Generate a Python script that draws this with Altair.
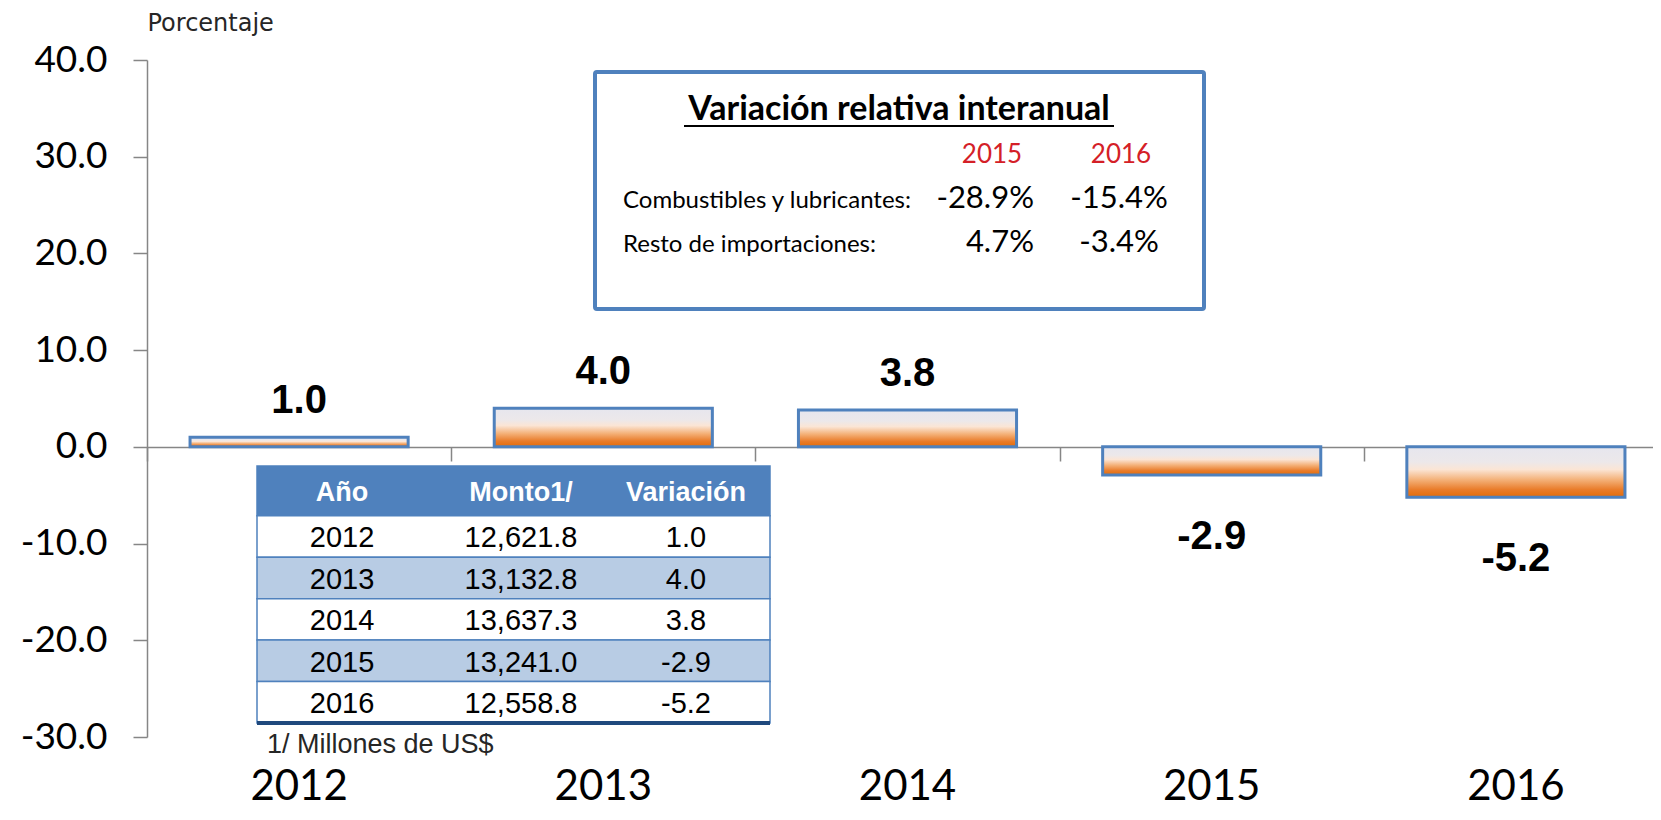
import altair as alt
import pandas as pd

# ---------------- data ----------------
years = ["2012", "2013", "2014", "2015", "2016"]
variacion = [1.0, 4.0, 3.8, -2.9, -5.2]
monto = [12621.8, 13132.8, 13637.3, 13241.0, 12558.8]
y_ticks = [-30, -20, -10, 0, 10, 20, 30, 40]
y_title = "Porcentaje"
table_headers = ["Año", "Monto1/", "Variación"]
footnote = "1/ Millones de US$"
box_title = "Variación relativa interanual"
box_years = ["2015", "2016"]
box_rows = ["Combustibles y lubricantes:", "Resto de importaciones:"]
box_v2015 = [-28.9, 4.7]
box_v2016 = [-15.4, -3.4]

# ---------------- style ----------------
W, H = 1506, 677
BLUE = "#4f81bd"
AXIS_GREY = "#868686"
RED = "#d42027"

# ---------------- main bars ----------------
bars_df = pd.DataFrame({"anio": years, "var": variacion})
bars_df["lbl"] = [f"{v:.1f}" for v in variacion]


def xscale():
    return alt.Scale(domain=years, range=[0, 1521], paddingInner=0.283, paddingOuter=0.1415)


def yscale():
    return alt.Scale(domain=[-30, 40], nice=False, zero=False)


grad = alt.Gradient(
    gradient="linear",
    stops=[
        alt.GradientStop(color="#e6e6ee", offset=0),
        alt.GradientStop(color="#ece8ea", offset=0.3),
        alt.GradientStop(color="#fbe5d5", offset=0.45),
        alt.GradientStop(color="#f4b27a", offset=0.65),
        alt.GradientStop(color="#e97c2a", offset=0.85),
        alt.GradientStop(color="#e36c09", offset=1),
    ],
    x1=0, x2=0, y1=0, y2=1,
)

bars = alt.Chart(bars_df).mark_bar(color=grad, stroke=BLUE, strokeWidth=3).encode(
    x=alt.X("anio:N", scale=xscale(), sort=None,
            axis=alt.Axis(title=None, orient="bottom", domain=False, ticks=False, tickSize=0,
                          labelFont="Lato", labelFontSize=42, labelColor="black",
                          labelBaseline="alphabetic", labelPadding=62, labelAngle=0, grid=False)),
    y=alt.Y("var:Q", scale=yscale(),
            axis=alt.Axis(orient="left", values=y_ticks,
                          labelExpr="(datum.value < 0 ? '-' : '') + format(abs(datum.value), '.1f')",
                          title=y_title, titleAngle=0,
                          titleAlign="left", titleBaseline="alphabetic", titleX=0, titleY=-30,
                          titleFont="DejaVu Sans", titleFontSize=24, titleFontWeight="normal",
                          titleColor="#262626", labelFont="Lato", labelFontSize=37,
                          labelColor="black", labelPadding=26, tickSize=14, tickColor=AXIS_GREY,
                          domainColor=AXIS_GREY, tickWidth=1.5, domainWidth=1.5, grid=False)),
)

pos_text = alt.Chart(bars_df).transform_filter("datum.var > 0").mark_text(
    font="Liberation Sans", fontSize=40, fontWeight="bold", baseline="alphabetic",
    dy=-24, align="center", color="black"
).encode(
    x=alt.X("anio:N", scale=xscale(), sort=None, axis=None),
    y=alt.Y("var:Q", scale=yscale(), axis=None),
    text="lbl:N",
)

neg_text = alt.Chart(bars_df).transform_filter("datum.var < 0").mark_text(
    font="Liberation Sans", fontSize=40, fontWeight="bold", baseline="alphabetic",
    dy=74, align="center", color="black"
).encode(
    x=alt.X("anio:N", scale=xscale(), sort=None, axis=None),
    y=alt.Y("var:Q", scale=yscale(), axis=None),
    text="lbl:N",
)

# zero line with category-boundary ticks (own band scale without padding)
zero_axis = alt.Axis(orient="bottom", offset=-290, labels=False, title=None, domain=True,
                     domainColor=AXIS_GREY, domainWidth=1.5, ticks=True, tickBand="extent",
                     tickSize=14, tickColor=AXIS_GREY, tickWidth=1.5, grid=False)
axis_group = alt.Chart(bars_df).mark_tick(opacity=0).encode(
    x=alt.X("anio:N", sort=None,
            scale=alt.Scale(domain=years, range=[0, 1521], paddingInner=0, paddingOuter=0),
            axis=zero_axis),
)

# ---------------- table ----------------
row_h = [1.2, 1, 1, 1, 1, 1]
tops, bottoms = [], []
acc = 0.0
for h in row_h:
    tops.append(acc)
    acc += h
    bottoms.append(acc)
tdf = pd.DataFrame({
    "fila": list(range(6)),
    "top": tops,
    "bottom": bottoms,
    "mid": [(a + b) / 2 for a, b in zip(tops, bottoms)],
    "tipo": ["enc", "blanco", "sombra", "blanco", "sombra", "blanco"],
    "c1": [table_headers[0]] + years,
    "c2": [table_headers[1]] + [f"{m:,.1f}" for m in monto],
    "c3": [table_headers[2]] + [f"{v:.1f}" for v in variacion],
})


def tyscale():
    return alt.Scale(domain=[0, acc], range=[406, 663], nice=False, zero=False)


t_rects = alt.Chart(tdf).mark_rect(stroke=BLUE, strokeWidth=1.5).encode(
    x=alt.value(110), x2=alt.value(623),
    y=alt.Y("top:Q", scale=tyscale(), axis=None), y2="bottom:Q",
    fill=alt.Fill("tipo:N", scale=alt.Scale(domain=["enc", "blanco", "sombra"],
                                            range=[BLUE, "white", "#b8cce4"]), legend=None),
)
t_layers = [t_rects]
col_x = [195, 374, 539]
for field, xp in zip(["c1", "c2", "c3"], col_x):
    t_layers.append(
        alt.Chart(tdf).transform_filter("datum.fila == 0").mark_text(
            font="Liberation Sans", fontSize=27, fontWeight="bold", color="white",
            align="center", baseline="middle", dy=2
        ).encode(x=alt.value(xp), y=alt.Y("mid:Q", scale=tyscale(), axis=None), text=f"{field}:N")
    )
    t_layers.append(
        alt.Chart(tdf).transform_filter("datum.fila > 0").mark_text(
            font="Liberation Sans", fontSize=29, color="black",
            align="center", baseline="middle", dy=2
        ).encode(x=alt.value(xp), y=alt.Y("mid:Q", scale=tyscale(), axis=None), text=f"{field}:N")
    )
t_layers.append(
    alt.Chart(tdf).transform_filter("datum.fila == 5").mark_rule(color="#1f497d", strokeWidth=4).encode(
        x=alt.value(110), x2=alt.value(623), y=alt.Y("bottom:Q", scale=tyscale(), axis=None)
    )
)
t_layers.append(
    alt.Chart(pd.DataFrame({"t": [footnote]})).mark_text(
        align="left", baseline="alphabetic", font="Liberation Sans", fontSize=27, color="#262626"
    ).encode(x=alt.value(120), y=alt.value(693), text="t:N")
)

# ---------------- info box ----------------
title_df = pd.DataFrame({"t": [box_title]})
box_rect = alt.Chart(title_df).mark_rect(fill="white", stroke=BLUE, strokeWidth=4, cornerRadius=2).encode(
    x=alt.value(448), x2=alt.value(1057), y=alt.value(12), y2=alt.value(249)
)
box_title_t = alt.Chart(title_df).mark_text(
    font="Lato", fontSize=34, fontWeight="bold", align="center", baseline="alphabetic", color="black"
).encode(x=alt.value(752), y=alt.value(60), text="t:N")
underline = alt.Chart(title_df).mark_rule(color="black", strokeWidth=2).encode(
    x=alt.value(537), x2=alt.value(967), y=alt.value(66)
)
hdr = alt.Chart(pd.DataFrame({"anio": box_years})).mark_text(
    font="Lato", fontSize=26, color=RED, align="center", baseline="alphabetic"
).encode(
    x=alt.X("anio:N", scale=alt.Scale(type="point", domain=box_years, range=[845, 974], padding=0), axis=None),
    y=alt.value(103), text="anio:N",
)
box_df = pd.DataFrame({
    "concepto": box_rows,
    "v15": [f"{v:.1f}%" for v in box_v2015],
    "v16": [f"{v:.1f}%" for v in box_v2016],
})


def ybox():
    return alt.Scale(type="point", domain=box_rows, range=[148, 192], padding=0)


box_lbl = alt.Chart(box_df).mark_text(
    font="Lato", fontSize=24, align="left", baseline="alphabetic", color="black"
).encode(x=alt.value(476), y=alt.Y("concepto:N", scale=ybox(), axis=None), text="concepto:N")
box_v15 = alt.Chart(box_df).mark_text(
    font="Lato", fontSize=31, align="right", baseline="alphabetic", color="black"
).encode(x=alt.value(887), y=alt.Y("concepto:N", scale=ybox(), axis=None), text="v15:N")
box_v16 = alt.Chart(box_df).mark_text(
    font="Lato", fontSize=31, align="center", baseline="alphabetic", color="black"
).encode(x=alt.value(972), y=alt.Y("concepto:N", scale=ybox(), axis=None), text="v16:N")
box_layers = [box_rect, box_title_t, underline, hdr, box_lbl, box_v15, box_v16]

chart = alt.layer(
    *t_layers, *box_layers, axis_group, bars, pos_text, neg_text
).resolve_scale(
    x="independent", y="independent"
).properties(
    width=W, height=H,
    autosize=alt.AutoSizeParams(type="none"),
    padding={"left": 139, "top": 52, "right": 0, "bottom": 72},
).configure_view(stroke=None)

chart.save("out.html", embed_options={"renderer": "svg", "actions": False})
